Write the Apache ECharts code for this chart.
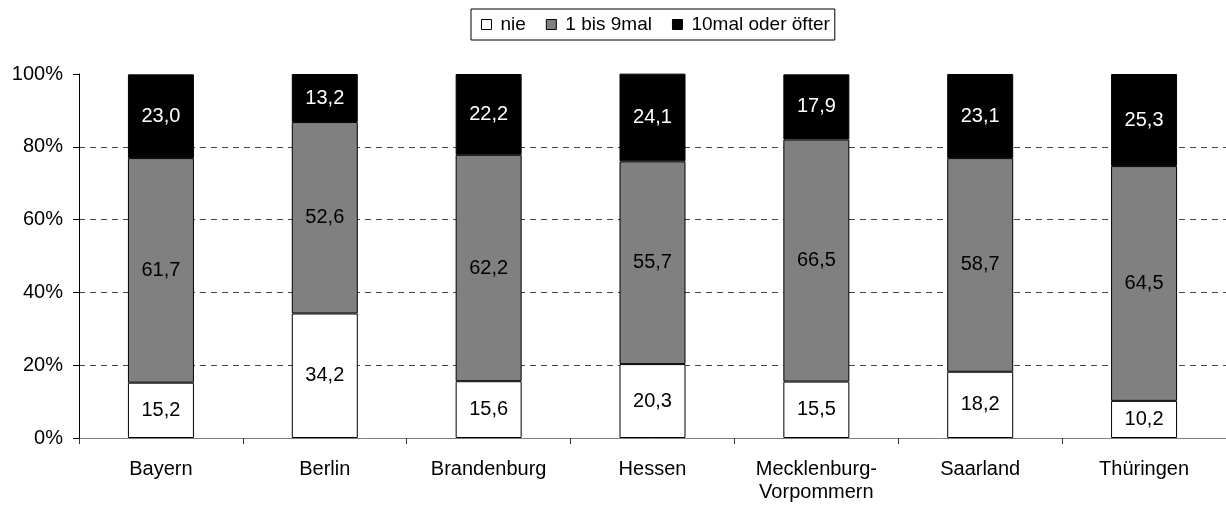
<!DOCTYPE html>
<html><head><meta charset="utf-8">
<script src="https://cdn.jsdelivr.net/npm/echarts@6/dist/echarts.min.js"></script>
<style>html,body{margin:0;padding:0;background:#fff}#c{width:1226px;height:505px}</style>
</head><body><div id="c"></div>
<script>
const categories = ['Bayern','Berlin','Brandenburg','Hessen','Mecklenburg-\nVorpommern','Saarland','Thüringen'];
const nie = [15.2, 34.2, 15.6, 20.3, 15.5, 18.2, 10.2];
const bis9 = [61.7, 52.6, 62.2, 55.7, 66.5, 58.7, 64.5];
const oft = [23.0, 13.2, 22.2, 24.1, 17.9, 23.1, 25.3];
const seriesNames = ['nie', '1 bis 9mal', '10mal oder öfter'];
const yTicks = [0, 20, 40, 60, 80, 100];

const font = 'Liberation Sans, Arial, sans-serif';
const fmt = p => p.value.toFixed(1).replace('.', ',');
function ser(name, data, color, labelColor) {
  return {
    name, type: 'bar', stack: 'a', data, barWidth: 66,
    itemStyle: {color, borderColor: '#000', borderWidth: 1},
    label: {show: true, position: 'inside', formatter: fmt, color: labelColor, fontFamily: font, fontSize: 20},
    emphasis: {disabled: true}
  };
}
const gridColors = yTicks.map(v => (v === 0 || v === 100) ? 'rgba(0,0,0,0)' : '#444');
const chart = echarts.init(document.getElementById('c'));
chart.setOption({
  animation: false,
  textStyle: {fontFamily: font},
  legend: {
    top: 9, left: 471,
    padding: [6, 5, 6, 10],
    borderColor: '#000', borderWidth: 1,
    itemWidth: 10, itemHeight: 10, itemGap: 20,
    icon: 'rect',
    textStyle: {fontFamily: font, fontSize: 19, color: '#000', padding: [0, 0, 0, 4]},
    data: seriesNames.map(n => ({name: n, itemStyle: {borderColor: '#000', borderWidth: 1}}))
  },
  grid: {left: 79, right: 0, top: 74, bottom: 67, containLabel: false},
  xAxis: {
    type: 'category', data: categories,
    axisLine: {lineStyle: {color: '#808080', width: 1}},
    axisTick: {show: true, length: 6, lineStyle: {color: '#333'}},
    axisLabel: {fontFamily: font, fontSize: 20, color: '#000', margin: 20, lineHeight: 23}
  },
  yAxis: {
    type: 'value', min: 0, max: 100, interval: 20,
    axisLine: {show: true, lineStyle: {color: '#000'}},
    axisTick: {show: true, length: 6, inside: false, lineStyle: {color: '#000'}},
    axisLabel: {fontFamily: font, fontSize: 20, color: '#000', margin: 16,
      formatter: v => yTicks.includes(v) ? v + '%' : ''},
    splitLine: {show: true, lineStyle: {color: gridColors, type: [6, 5], width: 1}}
  },
  series: [
    ser(seriesNames[0], nie, '#ffffff', '#000'),
    ser(seriesNames[1], bis9, '#808080', '#000'),
    ser(seriesNames[2], oft, '#000000', '#fff')
  ]
});
</script></body></html>
